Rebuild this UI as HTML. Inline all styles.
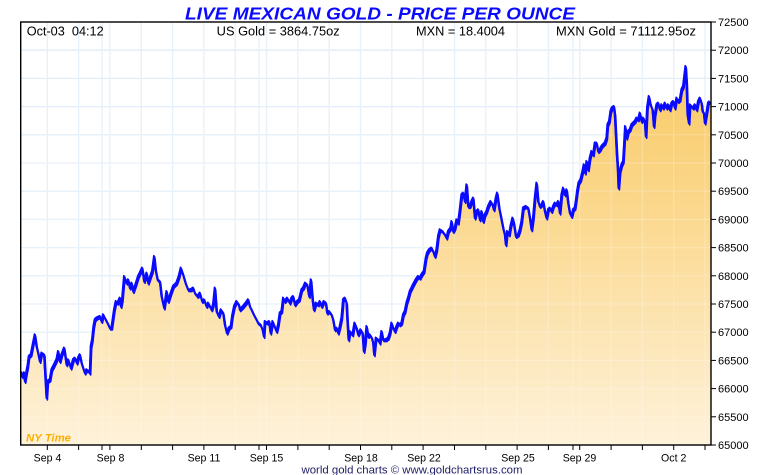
<!DOCTYPE html>
<html><head><meta charset="utf-8">
<style>
html,body{margin:0;padding:0;background:#fff;width:760px;height:475px;overflow:hidden}
svg{display:block}
text{font-family:"Liberation Sans",Arial,sans-serif}
</style></head>
<body>
<svg width="760" height="475" viewBox="0 0 760 475" xmlns="http://www.w3.org/2000/svg">
<defs>
<linearGradient id="g" x1="0" y1="22" x2="0" y2="445" gradientUnits="userSpaceOnUse">
<stop offset="0" stop-color="#f8c65a"/>
<stop offset="0.45" stop-color="#fbd88e"/>
<stop offset="1" stop-color="#fef2da"/>
</linearGradient>
<polyline id="ln" fill="none" stroke-linejoin="round" points="21,371.7 22.3,376.7 24.3,373 25,381.7 26.7,371.7 27.7,366.7 29,356.7 31,355 33.3,343.3 35,335 36.7,346.7 38.3,353.3 40,361.7 41.7,353.3 44.3,355 45,368.3 46.7,398.3 47.7,381.7 50,380 51.7,370 54.3,365 56.7,360 58.3,351.7 60,361.7 61.7,355 64.3,348.3 66.7,365 68.3,360 71,368.3 73.3,360 75,358.3 77,363.3 78.3,358.3 80,355 81.7,363.3 83.3,368.3 85,373.3 86.7,370 89,371.7 90,373.3 91,346.7 92.3,340 93.7,326.7 95,320 96.7,318.3 100,316.7 101.7,321.7 103.3,315 105,318.3 107.7,323.3 110,328.3 111.7,328.3 114.3,310 116,301.7 117.7,303.3 120,298.3 121,306.7 122.3,300 124.3,276.7 126.7,283.3 128.3,280 130,288.3 131.7,283.3 133.3,291.7 135.7,285 138.3,276.7 140,273.3 142.3,268.3 144.3,281.7 146.7,273.3 148.3,283.3 150,278.3 152.3,271.7 154.3,256.7 155.7,270 157.7,280 160,281.7 161.7,296.7 164.3,308.3 166.7,291.7 168.3,301.7 171,293.3 173.3,286.7 176.7,283.3 179,276.7 181,268.3 183.3,275 185.7,283.3 188.3,290 191,290 193.3,288.3 195,293.3 197.7,296.7 200,293.3 202.3,301.7 204.3,300 206.7,306.7 208.3,303.3 211.7,310 213.3,305 215,288.3 216.7,311.7 219,316.7 221,310 223.3,313.3 225,325 227,333.3 229,328.3 231,326.7 232.3,316.7 234.3,306.7 236.7,301.7 239,305 240,310 243.3,306.7 246,303.3 248.3,300 250,306.7 251.7,310 254,315 256.7,320 258.3,323.3 260.7,325 262.7,330 264,336.7 265,321.7 267.3,323.3 269.3,321.7 270.7,333.3 272.7,321.7 274.7,326.7 276.7,331.7 278.3,325 280,313.3 281.7,311.7 283.3,298.3 285,301.7 287.3,298.3 290,303.3 291.7,298.3 293.3,296.7 295,305 297.3,301.7 299.3,300 301.7,290 303.3,288.3 305.3,283.3 307.3,285 309.3,296.7 311,280 312.7,300 314,310 316,303.3 318.3,305 320,301.7 321.7,306.7 324,301.7 326,303.3 327.3,313.3 329.3,311.7 331.7,315 333.3,320 335,330 336.7,328.3 338.3,333.3 340,326.7 341.7,318.3 343.3,300 345,298.3 346.7,303.3 347.3,316.7 348.7,340 350,331.7 352.7,335 354.7,323.3 356.7,328.3 358.3,335 360.7,330 362.7,333.3 364,351.7 365.3,343.3 366.7,326.7 368.3,336.7 370,335 372,338.3 373.3,343.3 374.3,355 376,338.3 378.3,340 380,343.3 381.7,331.7 383.3,340 386,340 388.3,338.3 390,333.3 391.7,323.3 393.3,328.3 395,331.7 396.7,326.7 398.3,323.3 400,325 401.7,323.3 403.3,315 405,311.7 406.7,303.3 408.3,298.3 410,291.7 411.7,288.3 413.3,285 416,280 418.3,276.7 420,278.3 421.7,275 424,271.7 426,258.3 427.3,253.3 429.3,250 431.7,248.3 433.3,251.7 435,256.7 436.7,250 438.3,236.7 440,230 442.7,231.7 445,235 446.7,238.3 448.3,231.7 450.7,228.3 451.7,221.7 453.3,231.7 455,228.3 456.7,220 458.3,223.3 460,210 461.7,195 463.3,193.3 465,201.7 466.7,185 468.3,206.7 470,206.7 471.7,201.7 473.3,198.3 475,218.3 476.7,211.7 478.3,210 480,220 481.7,211.7 483.3,221.7 485,215 486.7,211.7 488.3,206.7 490.7,201.7 492.7,205 494,210 496,198.3 497.3,193.3 499.3,208.3 500.7,215 502,221.7 503.3,228.3 505,235 506,245 507.3,231.7 509.3,235 510.7,226.7 512.7,218.3 514,223.3 516,236.7 518.3,235 520,230 521.7,221.7 523.3,208.3 526,206.7 528.3,208.3 530,218.3 531.7,230 533.3,218.3 535,198.3 536.7,183.3 538.3,201.7 540,206.7 541.7,205 543.3,201.7 545,211.7 546.7,218.3 548.3,210 550,208.3 551.7,211.7 553.3,206.7 555,203.3 556.7,205 558.3,201.7 560,213.3 561.7,195 563.3,188.3 565,195 566.7,190 568.3,203.3 570,213.3 571.7,216.7 573.3,210 575,208.3 576,201.7 577.3,191.7 578.7,183.3 580.7,180 582.7,171.7 584,165 585.3,173.3 586.7,161.7 588.3,170 590,158.3 591.7,151.7 593.3,155 595,143.3 596.7,143.3 598.3,151.7 600,150 601.7,146.7 603.3,145 605,143.3 606.7,138.3 607.7,125 609.3,121.7 610.7,111.7 612,108.3 614,106.7 615,115 616,135 617,155 618,170 618.7,188.3 620,171.7 621.7,165 623.3,161.7 624.3,145 625.3,126.7 626.7,138.3 628.3,131.7 630,130 631.7,125 633.3,123.3 635,121.7 636.7,118.3 638.3,120 640,113.3 641.7,121.7 643.3,118.3 645,121.7 646,136.7 647.3,108.3 649,96.7 650.7,105 652.7,110 654,126.7 655,115 656.7,105 658.3,103.3 660,110 661.7,105 663.3,108.3 665,103.3 666.7,108.3 668.3,105 670,110 671.7,103.3 673.3,101.7 675,108.3 676.7,98.3 678.3,101.7 680,100 681.7,90 683.3,86.7 684.3,78.3 685.7,66.7 686.7,83.3 687.7,115 689,123.3 690,105 691.7,106.7 693.3,108.3 695,105 696.7,110 698.3,101.7 700,98.3 701.7,103.3 702.7,111.7 704,113.3 705,123.3 706.7,113.3 708.3,103.3 710,101.7"/>
</defs>
<rect x="0" y="0" width="760" height="475" fill="#fff"/>
<g stroke="#e1edf8" stroke-width="1.3">
<line x1="21" x2="711" y1="50.2" y2="50.2"/><line x1="21" x2="711" y1="78.4" y2="78.4"/><line x1="21" x2="711" y1="106.6" y2="106.6"/><line x1="21" x2="711" y1="134.8" y2="134.8"/><line x1="21" x2="711" y1="163" y2="163"/><line x1="21" x2="711" y1="191.2" y2="191.2"/><line x1="21" x2="711" y1="219.4" y2="219.4"/><line x1="21" x2="711" y1="247.6" y2="247.6"/><line x1="21" x2="711" y1="275.8" y2="275.8"/><line x1="21" x2="711" y1="304" y2="304"/><line x1="21" x2="711" y1="332.2" y2="332.2"/><line x1="21" x2="711" y1="360.4" y2="360.4"/><line x1="21" x2="711" y1="388.6" y2="388.6"/><line x1="21" x2="711" y1="416.8" y2="416.8"/>
<line y1="22" y2="445" x1="47.3" x2="47.3"/><line y1="22" y2="445" x1="78.6" x2="78.6"/><line y1="22" y2="445" x1="102" x2="102"/><line y1="22" y2="445" x1="109.9" x2="109.9"/><line y1="22" y2="445" x1="141.3" x2="141.3"/><line y1="22" y2="445" x1="172.6" x2="172.6"/><line y1="22" y2="445" x1="203.9" x2="203.9"/><line y1="22" y2="445" x1="235.2" x2="235.2"/><line y1="22" y2="445" x1="259" x2="259"/><line y1="22" y2="445" x1="266.5" x2="266.5"/><line y1="22" y2="445" x1="297.9" x2="297.9"/><line y1="22" y2="445" x1="329.2" x2="329.2"/><line y1="22" y2="445" x1="360.5" x2="360.5"/><line y1="22" y2="445" x1="391.8" x2="391.8"/><line y1="22" y2="445" x1="423.1" x2="423.1"/><line y1="22" y2="445" x1="454.5" x2="454.5"/><line y1="22" y2="445" x1="485.8" x2="485.8"/><line y1="22" y2="445" x1="517.1" x2="517.1"/><line y1="22" y2="445" x1="548.4" x2="548.4"/><line y1="22" y2="445" x1="573" x2="573"/><line y1="22" y2="445" x1="579.7" x2="579.7"/><line y1="22" y2="445" x1="611.1" x2="611.1"/><line y1="22" y2="445" x1="642.4" x2="642.4"/><line y1="22" y2="445" x1="673.7" x2="673.7"/><line y1="22" y2="445" x1="705" x2="705"/>
</g>
<polygon fill="url(#g)" points="21,445 21,371.7 22.3,376.7 24.3,373 25,381.7 26.7,371.7 27.7,366.7 29,356.7 31,355 33.3,343.3 35,335 36.7,346.7 38.3,353.3 40,361.7 41.7,353.3 44.3,355 45,368.3 46.7,398.3 47.7,381.7 50,380 51.7,370 54.3,365 56.7,360 58.3,351.7 60,361.7 61.7,355 64.3,348.3 66.7,365 68.3,360 71,368.3 73.3,360 75,358.3 77,363.3 78.3,358.3 80,355 81.7,363.3 83.3,368.3 85,373.3 86.7,370 89,371.7 90,373.3 91,346.7 92.3,340 93.7,326.7 95,320 96.7,318.3 100,316.7 101.7,321.7 103.3,315 105,318.3 107.7,323.3 110,328.3 111.7,328.3 114.3,310 116,301.7 117.7,303.3 120,298.3 121,306.7 122.3,300 124.3,276.7 126.7,283.3 128.3,280 130,288.3 131.7,283.3 133.3,291.7 135.7,285 138.3,276.7 140,273.3 142.3,268.3 144.3,281.7 146.7,273.3 148.3,283.3 150,278.3 152.3,271.7 154.3,256.7 155.7,270 157.7,280 160,281.7 161.7,296.7 164.3,308.3 166.7,291.7 168.3,301.7 171,293.3 173.3,286.7 176.7,283.3 179,276.7 181,268.3 183.3,275 185.7,283.3 188.3,290 191,290 193.3,288.3 195,293.3 197.7,296.7 200,293.3 202.3,301.7 204.3,300 206.7,306.7 208.3,303.3 211.7,310 213.3,305 215,288.3 216.7,311.7 219,316.7 221,310 223.3,313.3 225,325 227,333.3 229,328.3 231,326.7 232.3,316.7 234.3,306.7 236.7,301.7 239,305 240,310 243.3,306.7 246,303.3 248.3,300 250,306.7 251.7,310 254,315 256.7,320 258.3,323.3 260.7,325 262.7,330 264,336.7 265,321.7 267.3,323.3 269.3,321.7 270.7,333.3 272.7,321.7 274.7,326.7 276.7,331.7 278.3,325 280,313.3 281.7,311.7 283.3,298.3 285,301.7 287.3,298.3 290,303.3 291.7,298.3 293.3,296.7 295,305 297.3,301.7 299.3,300 301.7,290 303.3,288.3 305.3,283.3 307.3,285 309.3,296.7 311,280 312.7,300 314,310 316,303.3 318.3,305 320,301.7 321.7,306.7 324,301.7 326,303.3 327.3,313.3 329.3,311.7 331.7,315 333.3,320 335,330 336.7,328.3 338.3,333.3 340,326.7 341.7,318.3 343.3,300 345,298.3 346.7,303.3 347.3,316.7 348.7,340 350,331.7 352.7,335 354.7,323.3 356.7,328.3 358.3,335 360.7,330 362.7,333.3 364,351.7 365.3,343.3 366.7,326.7 368.3,336.7 370,335 372,338.3 373.3,343.3 374.3,355 376,338.3 378.3,340 380,343.3 381.7,331.7 383.3,340 386,340 388.3,338.3 390,333.3 391.7,323.3 393.3,328.3 395,331.7 396.7,326.7 398.3,323.3 400,325 401.7,323.3 403.3,315 405,311.7 406.7,303.3 408.3,298.3 410,291.7 411.7,288.3 413.3,285 416,280 418.3,276.7 420,278.3 421.7,275 424,271.7 426,258.3 427.3,253.3 429.3,250 431.7,248.3 433.3,251.7 435,256.7 436.7,250 438.3,236.7 440,230 442.7,231.7 445,235 446.7,238.3 448.3,231.7 450.7,228.3 451.7,221.7 453.3,231.7 455,228.3 456.7,220 458.3,223.3 460,210 461.7,195 463.3,193.3 465,201.7 466.7,185 468.3,206.7 470,206.7 471.7,201.7 473.3,198.3 475,218.3 476.7,211.7 478.3,210 480,220 481.7,211.7 483.3,221.7 485,215 486.7,211.7 488.3,206.7 490.7,201.7 492.7,205 494,210 496,198.3 497.3,193.3 499.3,208.3 500.7,215 502,221.7 503.3,228.3 505,235 506,245 507.3,231.7 509.3,235 510.7,226.7 512.7,218.3 514,223.3 516,236.7 518.3,235 520,230 521.7,221.7 523.3,208.3 526,206.7 528.3,208.3 530,218.3 531.7,230 533.3,218.3 535,198.3 536.7,183.3 538.3,201.7 540,206.7 541.7,205 543.3,201.7 545,211.7 546.7,218.3 548.3,210 550,208.3 551.7,211.7 553.3,206.7 555,203.3 556.7,205 558.3,201.7 560,213.3 561.7,195 563.3,188.3 565,195 566.7,190 568.3,203.3 570,213.3 571.7,216.7 573.3,210 575,208.3 576,201.7 577.3,191.7 578.7,183.3 580.7,180 582.7,171.7 584,165 585.3,173.3 586.7,161.7 588.3,170 590,158.3 591.7,151.7 593.3,155 595,143.3 596.7,143.3 598.3,151.7 600,150 601.7,146.7 603.3,145 605,143.3 606.7,138.3 607.7,125 609.3,121.7 610.7,111.7 612,108.3 614,106.7 615,115 616,135 617,155 618,170 618.7,188.3 620,171.7 621.7,165 623.3,161.7 624.3,145 625.3,126.7 626.7,138.3 628.3,131.7 630,130 631.7,125 633.3,123.3 635,121.7 636.7,118.3 638.3,120 640,113.3 641.7,121.7 643.3,118.3 645,121.7 646,136.7 647.3,108.3 649,96.7 650.7,105 652.7,110 654,126.7 655,115 656.7,105 658.3,103.3 660,110 661.7,105 663.3,108.3 665,103.3 666.7,108.3 668.3,105 670,110 671.7,103.3 673.3,101.7 675,108.3 676.7,98.3 678.3,101.7 680,100 681.7,90 683.3,86.7 684.3,78.3 685.7,66.7 686.7,83.3 687.7,115 689,123.3 690,105 691.7,106.7 693.3,108.3 695,105 696.7,110 698.3,101.7 700,98.3 701.7,103.3 702.7,111.7 704,113.3 705,123.3 706.7,113.3 708.3,103.3 710,101.7 711,101.7 711,445"/>
<g stroke="#ffffff" stroke-opacity="0.22" stroke-width="1.2">
<line x1="21" x2="711" y1="304" y2="304"/><line x1="21" x2="711" y1="332.2" y2="332.2"/><line x1="21" x2="711" y1="360.4" y2="360.4"/><line x1="21" x2="711" y1="388.6" y2="388.6"/><line x1="21" x2="711" y1="416.8" y2="416.8"/><line x1="21" x2="711" y1="275.8" y2="275.8"/><line x1="21" x2="711" y1="247.6" y2="247.6"/><line x1="21" x2="711" y1="219.4" y2="219.4"/><line x1="21" x2="711" y1="191.2" y2="191.2"/><line x1="21" x2="711" y1="163" y2="163"/><line x1="21" x2="711" y1="134.8" y2="134.8"/>
<line y1="22" y2="445" x1="47.3" x2="47.3"/><line y1="22" y2="445" x1="78.6" x2="78.6"/><line y1="22" y2="445" x1="102" x2="102"/><line y1="22" y2="445" x1="109.9" x2="109.9"/><line y1="22" y2="445" x1="141.3" x2="141.3"/><line y1="22" y2="445" x1="172.6" x2="172.6"/><line y1="22" y2="445" x1="203.9" x2="203.9"/><line y1="22" y2="445" x1="235.2" x2="235.2"/><line y1="22" y2="445" x1="259" x2="259"/><line y1="22" y2="445" x1="266.5" x2="266.5"/><line y1="22" y2="445" x1="297.9" x2="297.9"/><line y1="22" y2="445" x1="329.2" x2="329.2"/><line y1="22" y2="445" x1="360.5" x2="360.5"/><line y1="22" y2="445" x1="391.8" x2="391.8"/><line y1="22" y2="445" x1="423.1" x2="423.1"/><line y1="22" y2="445" x1="454.5" x2="454.5"/><line y1="22" y2="445" x1="485.8" x2="485.8"/><line y1="22" y2="445" x1="517.1" x2="517.1"/><line y1="22" y2="445" x1="548.4" x2="548.4"/><line y1="22" y2="445" x1="573" x2="573"/><line y1="22" y2="445" x1="579.7" x2="579.7"/><line y1="22" y2="445" x1="611.1" x2="611.1"/><line y1="22" y2="445" x1="642.4" x2="642.4"/><line y1="22" y2="445" x1="673.7" x2="673.7"/><line y1="22" y2="445" x1="705" x2="705"/>
</g>
<use href="#ln" stroke="#0a0aff" stroke-width="1.6" transform="translate(0.7,1.6)"/>
<use href="#ln" stroke="#0a0aff" stroke-width="1.6" transform="translate(-0.5,-1)"/>
<use href="#ln" stroke="#0a0aff" stroke-width="2.2"/>
<rect x="20.7" y="22" width="690.3" height="423" fill="none" stroke="#000" stroke-width="1.4"/>
<g stroke="#000" stroke-width="1">
<line x1="711" x2="716" y1="22" y2="22"/><line x1="711" x2="716" y1="50.2" y2="50.2"/><line x1="711" x2="716" y1="78.4" y2="78.4"/><line x1="711" x2="716" y1="106.6" y2="106.6"/><line x1="711" x2="716" y1="134.8" y2="134.8"/><line x1="711" x2="716" y1="163" y2="163"/><line x1="711" x2="716" y1="191.2" y2="191.2"/><line x1="711" x2="716" y1="219.4" y2="219.4"/><line x1="711" x2="716" y1="247.6" y2="247.6"/><line x1="711" x2="716" y1="275.8" y2="275.8"/><line x1="711" x2="716" y1="304" y2="304"/><line x1="711" x2="716" y1="332.2" y2="332.2"/><line x1="711" x2="716" y1="360.4" y2="360.4"/><line x1="711" x2="716" y1="388.6" y2="388.6"/><line x1="711" x2="716" y1="416.8" y2="416.8"/><line x1="711" x2="716" y1="445" y2="445"/>
</g>
<g font-size="11" fill="#000">
<text x="718" y="26">72500</text><text x="718" y="54.2">72000</text><text x="718" y="82.4">71500</text><text x="718" y="110.6">71000</text><text x="718" y="138.8">70500</text><text x="718" y="167">70000</text><text x="718" y="195.2">69500</text><text x="718" y="223.4">69000</text><text x="718" y="251.6">68500</text><text x="718" y="279.8">68000</text><text x="718" y="308">67500</text><text x="718" y="336.2">67000</text><text x="718" y="364.4">66500</text><text x="718" y="392.6">66000</text><text x="718" y="420.8">65500</text><text x="718" y="449">65000</text>
</g>
<g stroke="#000" stroke-width="1">
<line y1="445" y2="450" x1="47.3" x2="47.3"/><line y1="445" y2="450" x1="78.6" x2="78.6"/><line y1="445" y2="450" x1="102" x2="102"/><line y1="445" y2="450" x1="109.9" x2="109.9"/><line y1="445" y2="450" x1="141.3" x2="141.3"/><line y1="445" y2="450" x1="172.6" x2="172.6"/><line y1="445" y2="450" x1="203.9" x2="203.9"/><line y1="445" y2="450" x1="235.2" x2="235.2"/><line y1="445" y2="450" x1="259" x2="259"/><line y1="445" y2="450" x1="266.5" x2="266.5"/><line y1="445" y2="450" x1="297.9" x2="297.9"/><line y1="445" y2="450" x1="329.2" x2="329.2"/><line y1="445" y2="450" x1="360.5" x2="360.5"/><line y1="445" y2="450" x1="391.8" x2="391.8"/><line y1="445" y2="450" x1="423.1" x2="423.1"/><line y1="445" y2="450" x1="454.5" x2="454.5"/><line y1="445" y2="450" x1="485.8" x2="485.8"/><line y1="445" y2="450" x1="517.1" x2="517.1"/><line y1="445" y2="450" x1="548.4" x2="548.4"/><line y1="445" y2="450" x1="573" x2="573"/><line y1="445" y2="450" x1="579.7" x2="579.7"/><line y1="445" y2="450" x1="611.1" x2="611.1"/><line y1="445" y2="450" x1="642.4" x2="642.4"/><line y1="445" y2="450" x1="673.7" x2="673.7"/><line y1="445" y2="450" x1="705" x2="705"/>
</g>
<g font-size="10.6" fill="#000" text-anchor="middle">
<text x="47.5" y="461.5">Sep 4</text><text x="110.5" y="461.5">Sep 8</text><text x="204" y="461.5">Sep 11</text><text x="266.5" y="461.5">Sep 15</text><text x="361" y="461.5">Sep 18</text><text x="424" y="461.5">Sep 22</text><text x="518" y="461.5">Sep 25</text><text x="579.5" y="461.5">Sep 29</text><text x="673.7" y="461.5">Oct 2</text>
</g>
<text x="412" y="473.5" font-size="10.8" fill="#1c1c66" text-anchor="middle" textLength="221" lengthAdjust="spacingAndGlyphs">world gold charts © www.goldchartsrus.com</text>
<text x="26" y="441.5" font-size="11" font-weight="bold" font-style="italic" fill="#ffae00" textLength="45" lengthAdjust="spacingAndGlyphs">NY Time</text>
<text x="185" y="19.3" font-size="17.5" font-weight="bold" font-style="italic" fill="#0a0aff" textLength="390" lengthAdjust="spacingAndGlyphs">LIVE MEXICAN GOLD - PRICE PER OUNCE</text>
<g font-size="12.8" fill="#000">
<text x="26.7" y="35.3" textLength="77" lengthAdjust="spacingAndGlyphs" xml:space="preserve">Oct-03  04:12</text>
<text x="216.7" y="35.3" textLength="123" lengthAdjust="spacingAndGlyphs">US Gold = 3864.75oz</text>
<text x="416" y="35.3" textLength="89" lengthAdjust="spacingAndGlyphs">MXN = 18.4004</text>
<text x="556" y="35.3" textLength="140" lengthAdjust="spacingAndGlyphs">MXN Gold = 71112.95oz</text>
</g>
</svg>
</body></html>
